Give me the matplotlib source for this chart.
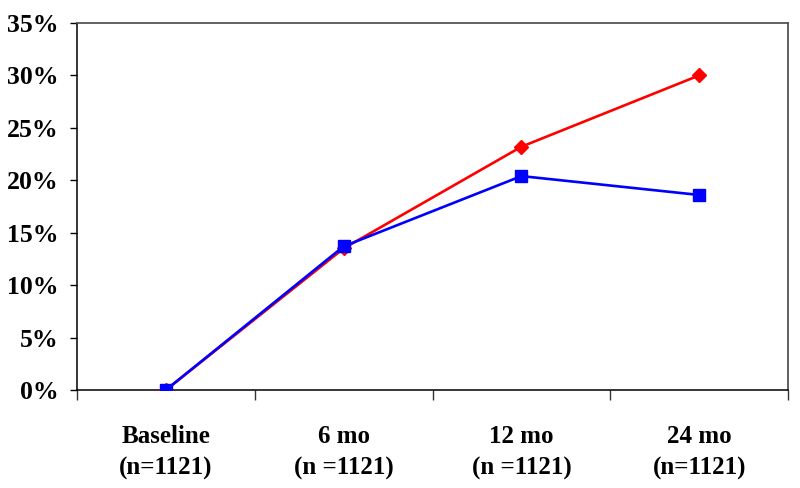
import matplotlib
matplotlib.use("Agg")
import matplotlib.pyplot as plt
from matplotlib.ticker import FixedLocator, FuncFormatter

categories = ["Baseline\n(n=1121)", "6 mo\n(n =1121)", "12 mo\n(n =1121)", "24 mo\n(n=1121)"]
red_values = [0.0, 13.5, 23.2, 30.0]
blue_values = [0.0, 13.7, 20.4, 18.6]
y_ticks = [0, 5, 10, 15, 20, 25, 30, 35]

plt.rcParams['font.family'] = ['Liberation Serif', 'DejaVu Serif']
plt.rcParams['font.weight'] = 'bold'

fig = plt.figure(figsize=(8, 4.88), dpi=100)
ax = fig.add_axes([0.09625, 0.2008, 0.98875 - 0.09625 - 0.0037, 0.9529 - 0.2008])

x = list(range(len(categories)))
ax.plot(x, red_values, color='#ff0000', lw=1.9, marker='D', ms=7, mec='#ff0000', mfc='#ff0000', zorder=3)
ax.plot(x, blue_values, color='#0000ff', lw=1.9, marker='s', ms=8, mec='#0000ff', mfc='#0000ff', zorder=4)

ax.set_xlim(-0.5, len(categories) - 0.5)
ax.set_ylim(0, 35)
ax.yaxis.set_major_locator(FixedLocator(y_ticks))
ax.yaxis.set_major_formatter(FuncFormatter(lambda v, p: f"{int(v)}%"))

ax.xaxis.set_major_locator(FixedLocator([i - 0.5 for i in range(len(categories) + 1)]))
ax.xaxis.set_major_formatter(FuncFormatter(lambda v, p: ""))
ax.xaxis.set_minor_locator(FixedLocator(x))
ax.set_xticklabels(categories, minor=True)
ax.tick_params(axis='x', which='major', direction='out', length=7, width=1, color='#333333')
ax.tick_params(axis='x', which='minor', length=0, pad=25, labelsize=18)
ax.tick_params(axis='y', direction='out', length=5, width=1, labelsize=18.5, pad=8)
for lab in ax.get_xticklabels(minor=True):
    lab.set_fontweight('bold')
    lab.set_linespacing(1.5)
for lab in ax.get_yticklabels():
    lab.set_fontweight('bold')

for s in ['left', 'bottom']:
    ax.spines[s].set_color('#000000')
    ax.spines[s].set_linewidth(1.1)
for s in ['top', 'right']:
    ax.spines[s].set_color('#555555')
    ax.spines[s].set_linewidth(1.3)

fig.savefig("out.png", dpi=100)
